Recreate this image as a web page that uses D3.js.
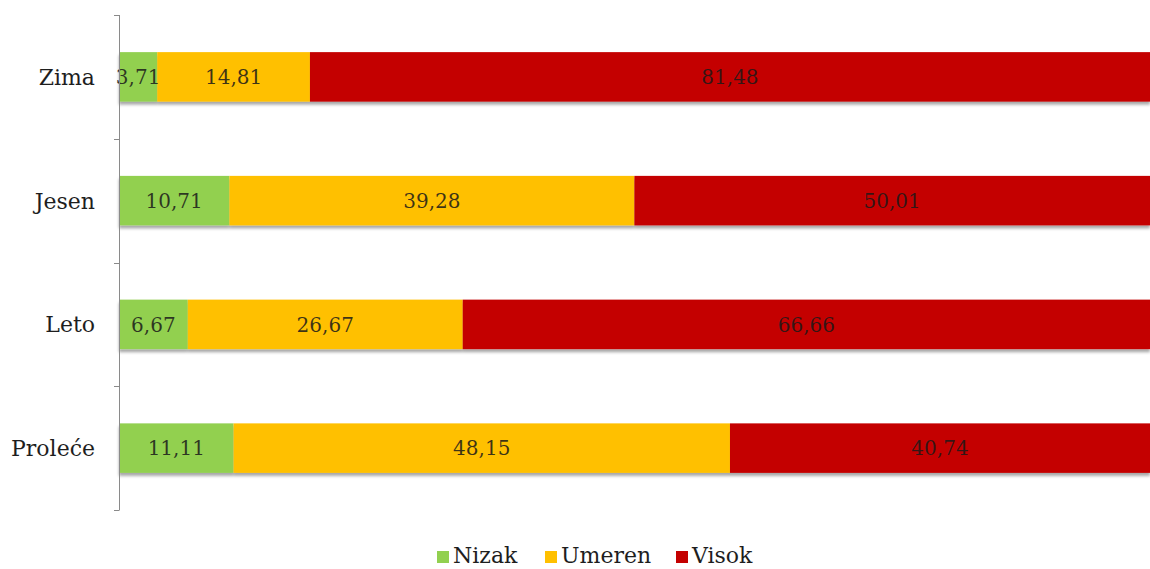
<!DOCTYPE html>
<html>
<head>
<meta charset="utf-8">
<script src="https://cdn.jsdelivr.net/npm/d3@7"></script>
<style>
  html, body { margin: 0; padding: 0; background: #fff; }
  svg { display: block; }
  text { font-family: "DejaVu Serif", "Liberation Serif", serif; }
</style>
</head>
<body>
<svg id="chart" width="1150" height="569"></svg>
<script>
// Seasons, top to bottom
const categories = ["Zima", "Jesen", "Leto", "Proleće"];
// Share (%) per level
const nizak  = [3.71, 10.71, 6.67, 11.11];
const umeren = [14.81, 39.28, 26.67, 48.15];
const visok  = [81.48, 50.01, 66.66, 40.74];
const seriesNames = ["Nizak", "Umeren", "Visok"];
const seriesColors = ["#92D050", "#FFC000", "#C40000"];

const svg = d3.select("#chart");
const plotLeft = 119, plotRight = 1150, plotTop = 15, plotBottom = 510;

const rows = categories.map((c, i) => ({ cat: c, Nizak: nizak[i], Umeren: umeren[i], Visok: visok[i] }));
const stacked = d3.stack().keys(seriesNames)(rows);

const x = d3.scaleLinear().domain([0, 100]).range([plotLeft, plotRight]);
const y = d3.scaleBand().domain(categories).range([plotTop, plotBottom]).paddingInner(0.6).paddingOuter(0.3);
const color = d3.scaleOrdinal().domain(seriesNames).range(seriesColors);

// soft shadow under the bars
const defs = svg.append("defs");
const f = defs.append("filter").attr("id", "shadow").attr("x", "-5%").attr("y", "-20%").attr("width", "110%").attr("height", "160%");
f.append("feDropShadow").attr("dx", 0).attr("dy", 3).attr("stdDeviation", 1.6)
  .attr("flood-color", "#000").attr("flood-opacity", 0.35);

const barsG = svg.append("g").attr("filter", "url(#shadow)");
barsG.selectAll("g.series").data(stacked).join("g")
  .attr("class", "series")
  .attr("fill", d => color(d.key))
  .selectAll("rect").data(d => d).join("rect")
  .attr("x", d => x(d[0]))
  .attr("y", d => y(d.data.cat))
  .attr("width", d => x(d[1]) - x(d[0]))
  .attr("height", y.bandwidth());

// value labels, centred in each segment
const fmt = v => v.toFixed(2).replace(".", ",");
const labG = svg.append("g");
stacked.forEach(s => {
  labG.selectAll(null).data(s).join("text")
    .attr("x", d => (x(d[0]) + x(d[1])) / 2)
    .attr("y", d => y(d.data.cat) + y.bandwidth() / 2)
    .attr("dy", "0.36em")
    .attr("text-anchor", "middle")
    .attr("font-size", 20)
    .attr("fill", "#1a1a1a")
    .attr("fill-opacity", 0.85)
    .text(d => fmt(d[1] - d[0]));
});

// category axis with boundary ticks
const axisG = svg.append("g");
axisG.append("line").attr("x1", plotLeft + 0.5).attr("x2", plotLeft + 0.5).attr("y1", plotTop).attr("y2", plotBottom)
  .attr("stroke", "#8a8a8a").attr("stroke-width", 1);
const step = (plotBottom - plotTop) / categories.length;
const tickYs = d3.range(categories.length + 1).map(i => plotTop + i * step);
axisG.selectAll("line.tick").data(tickYs).join("line").attr("class", "tick")
  .attr("x1", plotLeft - 5).attr("x2", plotLeft + 0.5)
  .attr("y1", d => Math.round(d) + 0.5).attr("y2", d => Math.round(d) + 0.5)
  .attr("stroke", "#8a8a8a");
axisG.selectAll("text").data(categories).join("text")
  .attr("x", plotLeft - 24)
  .attr("y", d => y(d) + y.bandwidth() / 2)
  .attr("dy", "0.36em")
  .attr("text-anchor", "end")
  .attr("font-size", 22)
  .attr("fill", "#1e1e1e")
  .text(d => d);

// legend
const legendX = [437, 545, 676];
const lg = svg.append("g");
seriesNames.forEach((n, i) => {
  lg.append("rect").attr("x", legendX[i]).attr("y", 551).attr("width", 12).attr("height", 12).attr("fill", seriesColors[i]);
  lg.append("text").attr("x", legendX[i] + 16).attr("y", 563).attr("font-size", 22).attr("fill", "#1e1e1e").text(n);
});
</script>
</body>
</html>
